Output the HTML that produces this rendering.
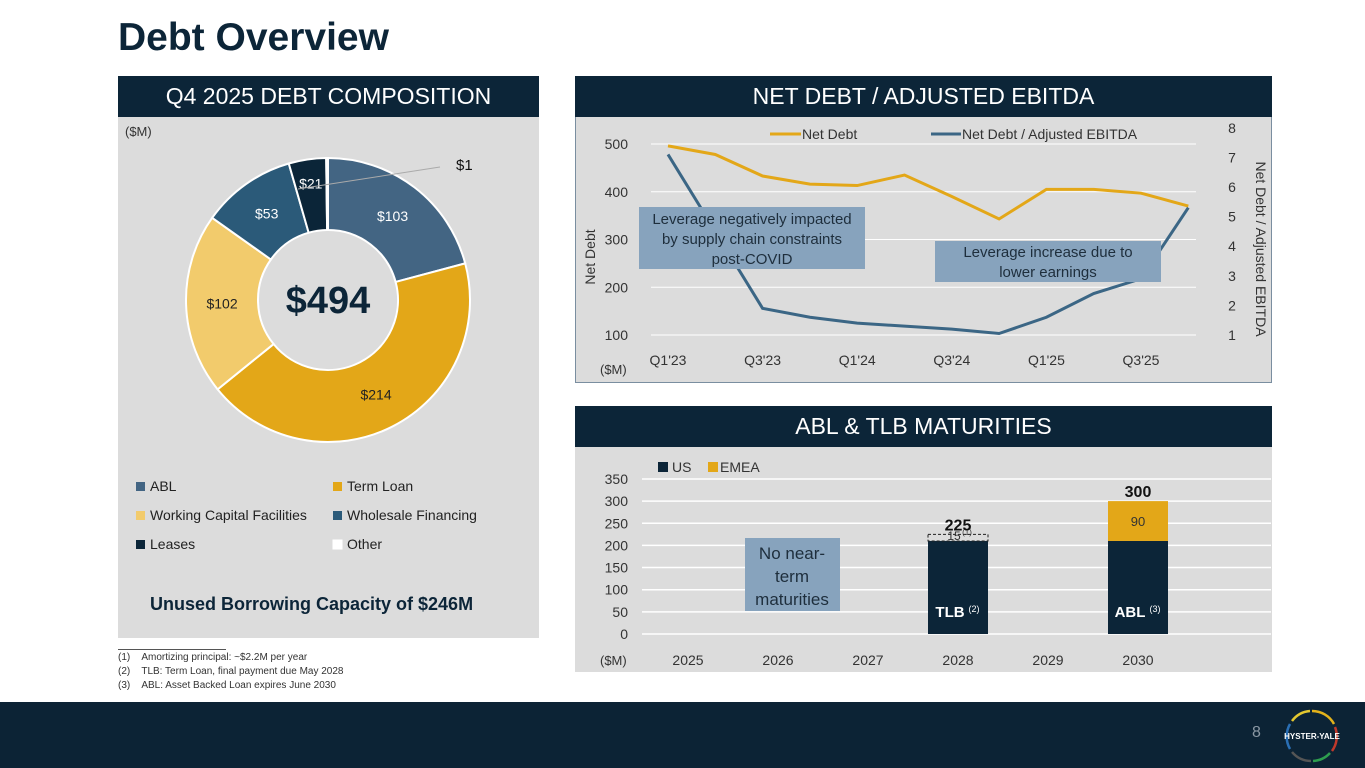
<!DOCTYPE html>
<html><head><meta charset="utf-8"><style>
body{margin:0;width:1365px;height:768px;background:#fff;font-family:"Liberation Sans",sans-serif;overflow:hidden;position:relative}
.abs{position:absolute}
.hdr{background:#0c2538;color:#fff;font-size:23px;text-align:center;line-height:41px}
.panel{background:#dcdcdc}
svg text{font-family:"Liberation Sans",sans-serif}
</style></head><body>
<div class="abs" style="left:118px;top:16px;font-size:39px;font-weight:bold;color:#0c2538">Debt Overview</div>

<div class="abs panel" style="left:118px;top:76px;width:421px;height:562px"></div>
<div class="abs hdr" style="left:118px;top:76px;width:421px">Q4 2025 DEBT COMPOSITION</div>

<div class="abs panel" style="left:575px;top:76px;width:697px;height:307px;border:1px solid #7a8ea0;box-sizing:border-box"></div>
<div class="abs hdr" style="left:575px;top:76px;width:697px">NET DEBT / ADJUSTED EBITDA</div>

<div class="abs panel" style="left:575px;top:406px;width:697px;height:266px"></div>
<div class="abs hdr" style="left:575px;top:406px;width:697px">ABL &amp; TLB MATURITIES</div>

<div class="abs" style="left:118px;top:649px;font-size:10px;color:#333;line-height:14px">
<div style="width:108px;border-top:1px solid #555;margin-bottom:1px"></div>
<div>(1)&nbsp;&nbsp;&nbsp;&nbsp;Amortizing principal: ~$2.2M per year</div>
<div>(2)&nbsp;&nbsp;&nbsp;&nbsp;TLB: Term Loan, final payment due May 2028</div>
<div>(3)&nbsp;&nbsp;&nbsp;&nbsp;ABL: Asset Backed Loan expires June 2030</div>
</div>

<div class="abs" style="left:0;top:702px;width:1365px;height:66px;background:#0c2335"></div>
<div class="abs" style="left:1252px;top:724px;color:#8a97a3;font-size:16px">8</div>
<svg class="abs" style="left:1280px;top:706px" width="64" height="60">
<g fill="none" stroke-width="2.5">
<path d="M32 5 A25 25 0 0 1 54 18" stroke="#e3b21b"/>
<path d="M55 21 A25 25 0 0 1 52 45" stroke="#c0392b"/>
<path d="M50 47 A25 25 0 0 1 33 55" stroke="#2e9e4f"/>
<path d="M31 55 A25 25 0 0 1 12 46" stroke="#555"/>
<path d="M10 43 A25 25 0 0 1 10 18" stroke="#2a6fb5"/>
<path d="M12 15 A25 25 0 0 1 30 5" stroke="#e3c830"/>
</g>
<text x="32" y="33" fill="#fff" font-size="8" font-weight="bold" text-anchor="middle">HYSTER-YALE</text>
</svg>

<!-- Donut -->
<svg class="abs" style="left:118px;top:117px" width="421" height="520" id="donut">
<text x="7" y="19" font-size="13" fill="#333">($M)</text>
<g id="slices"></g>
<text x="210" y="196" font-size="38" font-weight="bold" fill="#0c2538" text-anchor="middle">$494</text>
<line x1="180" y1="72" x2="322" y2="50" stroke="#aaa" stroke-width="1"/>
<text x="338" y="53" font-size="15" fill="#111">$1</text>
<g font-size="14" fill="#222" id="legend"></g>
<text x="32" y="493" font-size="18" font-weight="bold" fill="#0c2538">Unused Borrowing Capacity of $246M</text>
</svg>

<!-- Line chart -->
<svg class="abs" style="left:576px;top:117px" width="695" height="265" id="line"></svg>

<!-- Bar chart -->
<svg class="abs" style="left:576px;top:447px" width="695" height="225" id="bar"></svg>

<script>
const NS="http://www.w3.org/2000/svg";
function mk(p,t,a,txt){const e=document.createElementNS(NS,t);for(const k in a)e.setAttribute(k,a[k]);if(txt!==undefined)e.textContent=txt;p.appendChild(e);return e;}

// Donut data
const donutLabels=["ABL","Term Loan","Working Capital Facilities","Wholesale Financing","Leases","Other"];
const donutValues=[103,214,102,53,21,1];
const donutColors=["#436583","#e3a718","#f2cb6c","#2b5a79","#0b2538","#ffffff"];
const donutTextColors=["#fff","#222","#222","#fff","#fff","#222"];
(function(){
 const g=document.getElementById('slices');const cx=210,cy=183,R=142,r=70;
 const tot=donutValues.reduce((a,b)=>a+b,0);let a0=0;
 donutValues.forEach((v,i)=>{
  const a1=a0+v/tot*2*Math.PI;
  const p=(a,rr)=>[cx+rr*Math.sin(a),cy-rr*Math.cos(a)];
  const [x1,y1]=p(a0,R),[x2,y2]=p(a1,R),[x3,y3]=p(a1,r),[x4,y4]=p(a0,r);
  const lg=(a1-a0)>Math.PI?1:0;
  const s=mk(g,'path',{d:`M${x1} ${y1}A${R} ${R} 0 ${lg} 1 ${x2} ${y2}L${x3} ${y3}A${r} ${r} 0 ${lg} 0 ${x4} ${y4}Z`,fill:donutColors[i],stroke:'#fff','stroke-width':2});
  
  
  if(i<5){const am=(a0+a1)/2;const [tx,ty]=p(am,(R+r)/2+(i==4?12:0));
   const t=mk(g,'text',{x:tx,y:ty+5,'font-size':14,fill:donutTextColors[i],'text-anchor':'middle'},'$'+v);
   
   }
  a0=a1;
 });
 const lg=document.getElementById('legend');
 donutLabels.forEach((l,i)=>{
  const x=i%2?215:18,y=374+Math.floor(i/2)*29;
  mk(lg,'rect',{x:x,y:y-9,width:9,height:9,fill:donutColors[i],stroke:i==5?'#fff':'none'});
  const t=mk(lg,'text',{x:x+14,y:y},l);
  
  
 });
})();

// Line chart data
const quarters=["Q1'23","Q2'23","Q3'23","Q4'23","Q1'24","Q2'24","Q3'24","Q4'24","Q1'25","Q2'25","Q3'25","Q4'25"];
const netDebt=[496,478,433,416,413,435,390,343,405,405,397,370];
const leverage=[7.1,4.5,1.9,1.6,1.4,1.3,1.2,1.05,1.6,2.4,2.9,5.3];
const leftTicks=[100,200,300,400,500];
const rightTicks=[1,2,3,4,5,6,7,8];
(function(){
 const s=document.getElementById('line');
 const X=i=>92+i*47.3, YL=v=>218-(v-100)*0.4775, YR=v=>218-(v-1)*29.6;
 leftTicks.forEach(v=>{mk(s,'line',{x1:75,x2:620,y1:YL(v),y2:YL(v),stroke:'#fff','stroke-width':1});
  mk(s,'text',{x:52,y:YL(v)+5,'font-size':14,fill:'#333','text-anchor':'end'},v);});
 rightTicks.forEach(v=>mk(s,'text',{x:656,y:YR(v)+5,'font-size':14,fill:'#333','text-anchor':'middle'},v));
 quarters.forEach((q,i)=>{if(i%2==0)mk(s,'text',{x:X(i),y:248,'font-size':14,fill:'#333','text-anchor':'middle'},q);});
 mk(s,'text',{x:24,y:257,'font-size':13,fill:'#333'},'($M)');
 mk(s,'text',{x:0,y:0,'font-size':14,fill:'#333','text-anchor':'middle',transform:'translate(19,140) rotate(-90)'},'Net Debt');
 mk(s,'text',{x:0,y:0,'font-size':14,fill:'#333','text-anchor':'middle',transform:'translate(680,132) rotate(90)'},'Net Debt / Adjusted EBITDA');
 const p1=mk(s,'polyline',{points:netDebt.map((v,i)=>X(i)+','+YL(v)).join(' '),fill:'none',stroke:'#e3a718','stroke-width':3});
 
 
 const p2=mk(s,'polyline',{points:leverage.map((v,i)=>X(i)+','+YR(v)).join(' '),fill:'none',stroke:'#3b6685','stroke-width':3});
 
 
 mk(s,'line',{x1:194,x2:225,y1:17,y2:17,stroke:'#e3a718','stroke-width':3});
 mk(s,'text',{x:226,y:22,'font-size':14,fill:'#333'},'Net Debt');
 mk(s,'line',{x1:355,x2:385,y1:17,y2:17,stroke:'#3b6685','stroke-width':3});
 mk(s,'text',{x:386,y:22,'font-size':14,fill:'#333'},'Net Debt / Adjusted EBITDA');
 const b1=mk(s,'rect',{x:63,y:90,width:226,height:62,fill:'#87a3bd'});
 
 
 ["Leverage negatively impacted","by supply chain constraints","post-COVID"].forEach((t,i)=>mk(s,'text',{x:176,y:107+i*20,'font-size':15,fill:'#1e2e3c','text-anchor':'middle'},t));
 const b2=mk(s,'rect',{x:359,y:124,width:226,height:41,fill:'#87a3bd'});
 
 
 ["Leverage increase due to","lower earnings"].forEach((t,i)=>mk(s,'text',{x:472,y:140+i*20,'font-size':15,fill:'#1e2e3c','text-anchor':'middle'},t));
})();

// Bar chart data
const years=["2025","2026","2027","2028","2029","2030"];
const usValues=[0,0,0,210,0,210];
const emeaValues=[0,0,0,0,0,90];
const amortValues=[0,0,0,15,0,0];
const barTicks=[0,50,100,150,200,250,300,350];
(function(){
 const s=document.getElementById('bar');
 const X=i=>112+i*90, Y=v=>187-v*0.443, W=60;
 barTicks.forEach(v=>{mk(s,'line',{x1:66,x2:695,y1:Y(v),y2:Y(v),stroke:'#fff','stroke-width':1.5});
  mk(s,'text',{x:52,y:Y(v)+5,'font-size':14,fill:'#333','text-anchor':'end'},v);});
 years.forEach((y,i)=>mk(s,'text',{x:X(i),y:218,'font-size':14,fill:'#333','text-anchor':'middle'},y));
 mk(s,'text',{x:24,y:218,'font-size':13,fill:'#333'},'($M)');
 mk(s,'rect',{x:82,y:15,width:10,height:10,fill:'#0c2538'});
 mk(s,'text',{x:96,y:25,'font-size':14,fill:'#333'},'US');
 mk(s,'rect',{x:132,y:15,width:10,height:10,fill:'#e3a718'});
 mk(s,'text',{x:144,y:25,'font-size':14,fill:'#333'},'EMEA');
 const nb=mk(s,'rect',{x:169,y:91,width:95,height:73,fill:'#87a3bd'});
 
 
 ["No near-","term","maturities"].forEach((t,i)=>mk(s,'text',{x:216,y:112+i*23,'font-size':17,fill:'#1e2e3c','text-anchor':'middle'},t));
 years.forEach((y,i)=>{
  if(usValues[i]>0){const r=mk(s,'rect',{x:X(i)-W/2,y:Y(usValues[i]),width:W,height:Y(0)-Y(usValues[i]),fill:'#0c2538'});
   
   }
  if(emeaValues[i]>0){const r=mk(s,'rect',{x:X(i)-W/2,y:Y(usValues[i]+emeaValues[i]),width:W,height:Y(usValues[i])-Y(usValues[i]+emeaValues[i]),fill:'#e3a718'});
   
   
   mk(s,'text',{x:X(i),y:(Y(usValues[i])+Y(usValues[i]+emeaValues[i]))/2+5,'font-size':13,fill:'#333','text-anchor':'middle'},emeaValues[i]);}
  if(amortValues[i]>0){const r=mk(s,'rect',{x:X(i)-W/2,y:Y(usValues[i]+amortValues[i]),width:W,height:Y(usValues[i])-Y(usValues[i]+amortValues[i]),fill:'none',stroke:'#222','stroke-dasharray':'3,2'});
   
   
   mk(s,'text',{x:X(i)-4,y:Y(usValues[i])-1,'font-size':12,fill:'#333','text-anchor':'middle'},amortValues[i]);
   mk(s,'text',{x:X(i)+9,y:Y(usValues[i])-6,'font-size':8,fill:'#333','text-anchor':'middle'},'(1)');}
  const tot=usValues[i]+emeaValues[i]+amortValues[i];
  if(tot>0)mk(s,'text',{x:X(i),y:Y(tot)-4,'font-size':16,'font-weight':'bold',fill:'#111','text-anchor':'middle'},tot);
 });
 mk(s,'text',{x:X(3)-8,y:170,'font-size':15,'font-weight':'bold',fill:'#fff','text-anchor':'middle'},'TLB');
 mk(s,'text',{x:X(3)+16,y:165,'font-size':9,fill:'#fff','text-anchor':'middle'},'(2)');
 mk(s,'text',{x:X(5)-8,y:170,'font-size':15,'font-weight':'bold',fill:'#fff','text-anchor':'middle'},'ABL');
 mk(s,'text',{x:X(5)+17,y:165,'font-size':9,fill:'#fff','text-anchor':'middle'},'(3)');
})();
</script>
</body></html>
